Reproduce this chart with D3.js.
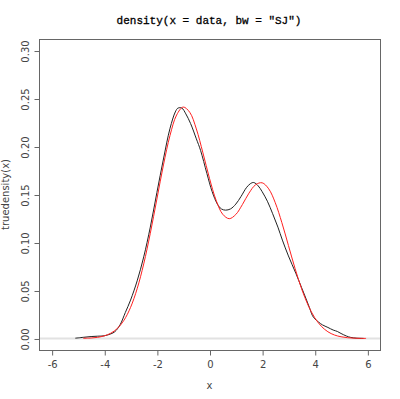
<!DOCTYPE html>
<html>
<head>
<meta charset="utf-8">
<script src="https://cdn.jsdelivr.net/npm/d3@7"></script>
<style>
  html, body { margin: 0; padding: 0; background: #fff; }
  svg { display: block; }
</style>
</head>
<body>
<svg id="chart" width="400" height="399"></svg>
<script>
// Estimated density (black)
const estX = [-5.1,-4.8,-4.5,-4.25,-4.0,-3.75,-3.6,-3.4,-3.2,-3.0,-2.75,-2.5,-2.25,-2.0,-1.75,-1.5,-1.3,-1.2,-1.05,-0.9,-0.72,-0.5,-0.34,-0.1,0.1,0.3,0.45,0.61,0.8,1.0,1.2,1.4,1.55,1.68,1.85,2.0,2.2,2.4,2.6,2.77,3.0,3.28,3.5,3.66,3.8,3.91,4.0,4.15,4.29,4.5,4.7,4.86,5.0,5.2,5.37,5.6,5.85];
const estY = [0.0003,0.0012,0.0020,0.0024,0.0028,0.0048,0.0070,0.0142,0.027,0.040,0.060,0.085,0.116,0.152,0.187,0.219,0.236,0.2400,0.2400,0.234,0.224,0.208,0.196,0.172,0.153,0.140,0.135,0.1337,0.135,0.140,0.148,0.157,0.1612,0.1625,0.159,0.153,0.143,0.130,0.116,0.1025,0.086,0.068,0.053,0.042,0.032,0.024,0.0205,0.0170,0.0142,0.0115,0.0088,0.0073,0.0052,0.0026,0.0011,0.0003,0.0001];

// True density (red)
const trueX = [-4.8,-4.5,-4.25,-4.0,-3.75,-3.5,-3.25,-3.0,-2.75,-2.5,-2.25,-2.0,-1.75,-1.5,-1.25,-1.0,-0.75,-0.5,-0.25,0.0,0.25,0.5,0.75,1.0,1.25,1.5,1.75,2.0,2.25,2.5,2.75,3.0,3.25,3.5,3.75,4.0,4.25,4.5,4.75,5.0,5.25,5.5,5.75,5.95];
const trueY = [0.0002,0.0005,0.0012,0.0027,0.0055,0.0105,0.0190,0.0324,0.0518,0.0777,0.1096,0.1452,0.1808,0.2116,0.2328,0.2411,0.2356,0.2183,0.1934,0.1668,0.1441,0.1295,0.1248,0.1292,0.1395,0.1514,0.1601,0.1622,0.1559,0.1414,0.1207,0.0969,0.0731,0.0518,0.0345,0.0216,0.0127,0.0070,0.0036,0.0018,0.0008,0.00035,0.00014,0.00006];

const xTicks = [-6,-4,-2,0,2,4,6];
const yTicks = [0.00,0.05,0.10,0.15,0.20,0.25,0.30];

const titleText = 'density(x = data, bw = "SJ")';
const xLabel = 'x';
const yLabel = 'truedensity(x)';

const L = 39, R = 380, T = 39, B = 350;
const svg = d3.select('#chart');

const x = d3.scaleLinear().domain([-6.48, 6.48]).range([L, R]);
const y = d3.scaleLinear().domain([-0.012, 0.312]).range([B, T]);

const axisColor = '#666';
const textColor = '#444';
const font = '"DejaVu Sans", sans-serif';

// zero line
svg.append('line')
  .attr('x1', L).attr('x2', R)
  .attr('y1', y(0)).attr('y2', y(0))
  .attr('stroke', '#e2e2e2').attr('stroke-width', 2);

// curves
const lineGen = (xs, ys) => d3.line()
  .x((d, i) => x(xs[i]))
  .y((d, i) => y(ys[i]))
  .curve(d3.curveCatmullRom.alpha(0.5))(xs);

svg.append('path')
  .attr('d', lineGen(estX, estY))
  .attr('fill', 'none').attr('stroke', '#222').attr('stroke-width', 1);

svg.append('path')
  .attr('d', lineGen(trueX, trueY))
  .attr('fill', 'none').attr('stroke', '#ff2020').attr('stroke-width', 1);

// box
svg.append('rect')
  .attr('x', L + 0.5).attr('y', T + 0.5)
  .attr('width', R - L).attr('height', B - T)
  .attr('fill', 'none').attr('stroke', axisColor).attr('stroke-width', 1);

// x axis
const xAxis = d3.axisBottom(x).tickValues(xTicks).tickSize(5).tickPadding(5)
  .tickFormat(d3.format('d'));
const gx = svg.append('g').attr('transform', `translate(0.5,${B + 0.5})`).call(xAxis);
gx.select('.domain').remove();
gx.selectAll('.tick line').attr('stroke', axisColor);
gx.selectAll('.tick text').attr('fill', textColor).attr('font-family', font).attr('font-size', 10)
  .text(d => d < 0 ? '-' + Math.abs(d) : String(d));

// y axis
const yAxis = d3.axisLeft(y).tickValues(yTicks).tickSize(5).tickPadding(0)
  .tickFormat(d3.format('.2f'));
const gy = svg.append('g').attr('transform', `translate(${L + 0.5},0.5)`).call(yAxis);
gy.select('.domain').remove();
gy.selectAll('.tick line').attr('stroke', axisColor);
gy.selectAll('.tick text')
  .attr('fill', textColor).attr('font-family', font).attr('font-size', 10)
  .attr('x', null).attr('dy', null)
  .attr('text-anchor', 'middle')
  .attr('transform', 'translate(-11,0) rotate(-90)');

// title
svg.append('text')
  .attr('x', 209).attr('y', 24)
  .attr('text-anchor', 'middle')
  .attr('font-family', '"Liberation Mono", "DejaVu Sans Mono", monospace')
  .attr('font-size', 11)
  .attr('fill', '#000')
  .attr('stroke', '#000').attr('stroke-width', 0.3)
  .text(titleText);

// x label
svg.append('text')
  .attr('x', (L + R) / 2).attr('y', 389)
  .attr('text-anchor', 'middle')
  .attr('font-family', font).attr('font-size', 10)
  .attr('fill', textColor)
  .text(xLabel);

// y label
svg.append('text')
  .attr('transform', `translate(9,${(T + B) / 2}) rotate(-90)`)
  .attr('text-anchor', 'middle')
  .attr('font-family', font).attr('font-size', 10)
  .attr('fill', textColor)
  .text(yLabel);
</script>
</body>
</html>
